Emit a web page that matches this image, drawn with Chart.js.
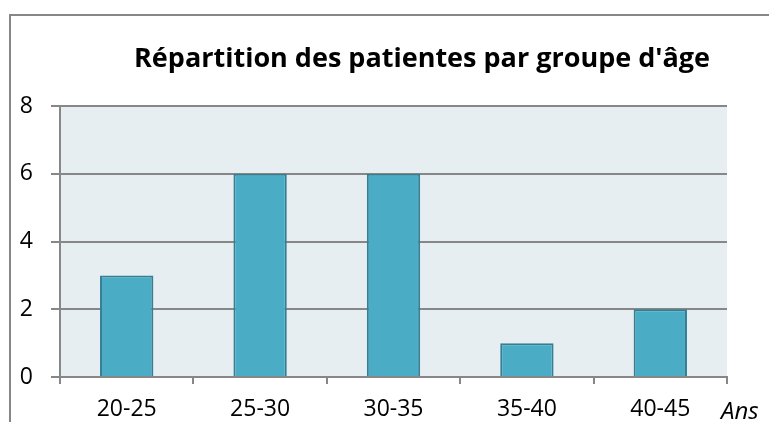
<!DOCTYPE html>
<html>
<head>
<meta charset="utf-8">
<script src="https://cdn.jsdelivr.net/npm/chart.js@4"></script>
<style>
  html, body { margin: 0; padding: 0; background: #fff; }
  #wrap { position: relative; width: 769px; height: 422px; }
  #frame { position: absolute; left: 9px; top: 14px; width: 760px; height: 420px;
           border-left: 2px solid #878787; border-top: 2px solid #878787; box-sizing: border-box; }
  canvas { position: absolute; left: 0; top: 0; }
</style>
</head>
<body>
<div id="wrap">
  <div id="frame"></div>
  <canvas id="ageChart" width="769" height="422"></canvas>
</div>
<script>
const categories = ["20-25", "25-30", "30-35", "35-40", "40-45"];
const patientes = [3, 6, 6, 1, 2];
const yTicks = [0, 2, 4, 6, 8];
const titleText = "Répartition des patientes par groupe d'âge";
const unitText = "Ans";

document.addEventListener("DOMContentLoaded", function () {
    const font = "'Open Sans', sans-serif";

    // fond gris-bleu de la zone de tracé + titre + unité
    const decor = {
        id: "decor",
        beforeDraw(chart) {
            const { ctx, chartArea: a } = chart;
            ctx.save();
            ctx.fillStyle = "#e7eef2";
            ctx.fillRect(a.left, a.top, a.right - a.left, a.bottom - a.top);
            ctx.restore();
        },
        afterDraw(chart) {
            const { ctx } = chart;
            ctx.save();
            ctx.fillStyle = "#000";
            ctx.textAlign = "center";
            ctx.textBaseline = "alphabetic";
            ctx.font = "bold 27px " + font;
            ctx.fillText(titleText, 422, 67);
            ctx.font = "italic 24px " + font;
            ctx.textAlign = "left";
            ctx.fillText(unitText, 721, 419);
            ctx.restore();
        }
    };

    new Chart(document.getElementById("ageChart"), {
        type: "bar",
        data: {
            labels: categories,
            datasets: [{
                data: patientes,
                backgroundColor: "#4bacc6",
                borderColor: "#357f94",
                borderWidth: 2,
                categoryPercentage: 1,
                barPercentage: 0.4
            }]
        },
        options: {
            responsive: false,
            animation: false,
            layout: { padding: { left: 0, top: 106, right: 42, bottom: 0 } },
            plugins: {
                legend: { display: false },
                tooltip: { enabled: false }
            },
            scales: {
                x: {
                    offset: true,
                    grid: { offset: true, drawOnChartArea: false, color: "#878787", lineWidth: 2, tickLength: 7 },
                    border: { color: "#878787", width: 2 },
                    ticks: { color: "#000", font: { family: font, size: 23 }, padding: 12 },
                    afterFit(s) { s.height = 45; }
                },
                y: {
                    min: 0,
                    max: 8,
                    afterBuildTicks(s) { s.ticks = yTicks.map(v => ({ value: v })); },
                    grid: { color: "#878787", lineWidth: 2, tickLength: 9 },
                    border: { color: "#878787", width: 2 },
                    ticks: { color: "#000", font: { family: font, size: 23 }, padding: 18 },
                    afterFit(s) { s.width = 60; }
                }
            }
        },
        plugins: [decor]
    });
});
</script>
</body>
</html>
